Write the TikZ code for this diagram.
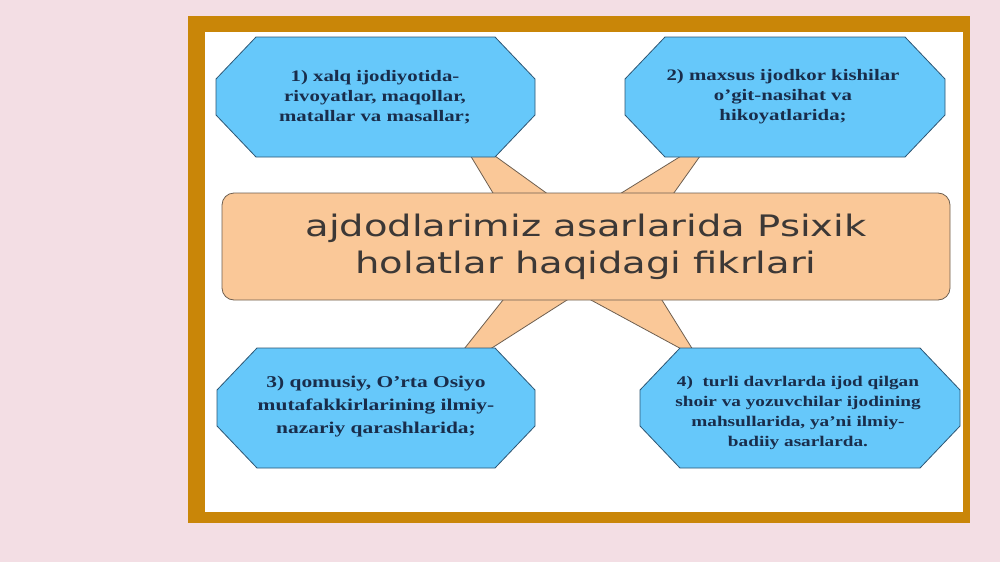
\documentclass[tikz,border=0pt]{standalone}
\usepackage{fontspec}
\usepackage{tikz}
\newfontfamily\titlefont[FakeStretch=1.3]{DejaVu Sans}
\newfontfamily\boxfont[FakeStretch=1.3]{Liberation Serif}
\definecolor{slidebg}{RGB}{243,222,228}
\definecolor{framegold}{RGB}{201,134,8}
\definecolor{peach}{RGB}{250,200,152}
\definecolor{peachline}{RGB}{110,95,80}
\definecolor{skyfill}{RGB}{102,200,250}
\definecolor{skyline}{RGB}{45,85,115}
\definecolor{boxink}{RGB}{25,45,75}
\definecolor{titleink}{RGB}{60,56,54}

\begin{document}
\begin{tikzpicture}[x=1pt,y=-1pt,
  octo/.style={draw=skyline,fill=skyfill,line width=0.8pt},
  boxtext/.style={text=boxink,align=center,inner sep=0pt,
    font=\boxfont\bfseries\fontsize{16}{20}\selectfont},
  mainbox/.style={draw=peachline,fill=peach,line width=0.8pt,rounded corners=12pt,
    minimum width=728pt,minimum height=107pt,align=center,text=titleink,
    font=\titlefont\fontsize{29.6}{37}\selectfont}]
\useasboundingbox (0,0) rectangle (1000,562);
\fill [slidebg] (0,0) rectangle (1000,562);
\fill [framegold] (188,16) rectangle (970,523);
\fill [white] (205,32) rectangle (963,512);
\draw [fill=peach,draw=peachline,line width=0.8pt] (452,125) -- (581,218) -- (715,135) -- (632,252)
  -- (698,358) -- (578,293) -- (437,383) -- (534,261) -- cycle;
\node [mainbox] (main) at (586,246.5) {ajdodlarimiz asarlarida Psixik\\holatlar haqidagi fikrlari};
\foreach \l/\t/\r/\b in {216/37/535/157, 625/37/945/157, 217/348/535/468, 640/348/960/468}
  \draw [octo] ({\l+40},\t) -- ({\r-40},\t) -- (\r,{\t+42}) -- (\r,{\b-42}) -- ({\r-40},\b)
    -- ({\l+40},\b) -- (\l,{\b-42}) -- (\l,{\t+42}) -- cycle;
\node [boxtext] (box1) at (375,97) {1) xalq ijodiyotida-\\rivoyatlar, maqollar,\\matallar va masallar;};
\node [boxtext] (box2) at (783,97) {2) maxsus ijodkor kishilar\\o’git-nasihat va\\hikoyatlarida;};
\node [boxtext,font=\boxfont\bfseries\fontsize{16.5}{23}\selectfont] (box3) at (376,407) {3) qomusiy, O’rta Osiyo\\mutafakkirlarining ilmiy-\\nazariy qarashlarida;};
\node [boxtext,font=\boxfont\bfseries\fontsize{14.8}{20}\selectfont] (box4) at (798,413) {4)\ \ turli davrlarda ijod qilgan\\shoir va yozuvchilar ijodining\\mahsullarida, ya’ni ilmiy-\\badiiy asarlarda.};
\end{tikzpicture}
\end{document}
